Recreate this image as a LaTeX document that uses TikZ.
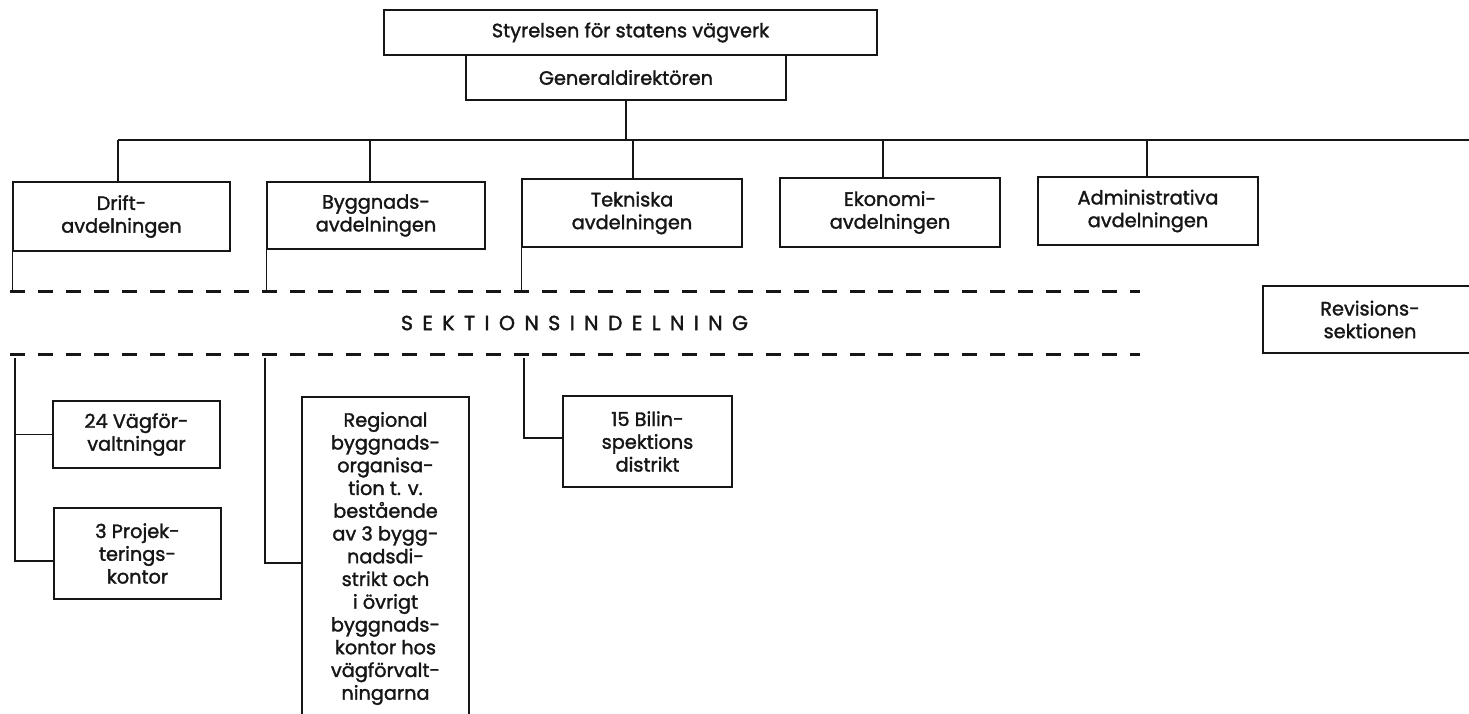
\documentclass[tikz,border=0pt]{standalone}
\usepackage{fontspec}
\setmainfont{Poppins}[FakeBold=1.6]
\definecolor{ink}{HTML}{161616}
\tikzset{
  orgbox/.style={draw=ink, line width=1.4pt, inner sep=0pt, align=center,
    text=ink, font=\fontsize{19.3}{22.75}\selectfont},
  conn/.style={draw=ink, line width=1.4pt},
  sectline/.style={draw=ink, line width=3pt, dash pattern=on 15pt off 13pt},
}
\begin{document}
\begin{tikzpicture}[x=1pt,y=-1pt]
\fill[white] (0,0) rectangle (1469,714);
\clip (0,0) rectangle (1469,714);

% top
\node[orgbox, minimum width=493pt, minimum height=45pt] (sty) at (630.5,32.5) {Styrelsen för statens vägverk};
\node[orgbox, minimum width=320pt, minimum height=45pt] (gen) at (626,77.5) {Generaldirektören};

% departments
\node[orgbox, minimum width=217pt, minimum height=69pt] (drift) at (121.5,216.5) {Drift-\\avdelningen};
\node[orgbox, minimum width=218pt, minimum height=67pt] (bygg) at (376,215.5) {Byggnads-\\avdelningen};
\node[orgbox, minimum width=220pt, minimum height=68pt] (tek) at (632,213) {Tekniska\\avdelningen};
\node[orgbox, minimum width=220pt, minimum height=69pt] (eko) at (890,212.5) {Ekonomi-\\avdelningen};
\node[orgbox, minimum width=220pt, minimum height=68pt] (adm) at (1148,211) {Administrativa\\avdelningen};
\node[orgbox, minimum width=214pt, minimum height=67pt] (rev) at (1370,319.5) {Revisions-\\sektionen};

% lower units
\node[orgbox, minimum width=167pt, minimum height=67pt] (vag) at (136.5,434.5) {24 Vägför-\\valtningar};
\node[orgbox, minimum width=167pt, minimum height=91pt] (proj) at (137.5,553.5) {3 Projek-\\terings-\\kontor};
\node[orgbox, minimum width=167pt, minimum height=323pt] (reg) at (385.5,558.5) {Regional\\byggnads-\\organisa-\\tion t. v.\\bestående\\av 3 bygg-\\nadsdi-\\strikt och\\i övrigt\\byggnads-\\kontor hos\\vägförvalt-\\ningarna};
\node[orgbox, minimum width=169pt, minimum height=91pt] (bil) at (647.5,441.5) {15 Bilin-\\spektions\\distrikt};

% bus
\coordinate (busL) at (118,140);
\coordinate (busR) at (1480,140);
\draw[conn] (gen.south) -- (gen.south |- busL);
\draw[conn] (busL) -- (busR);
\draw[conn] ([xshift=-3.5pt]drift.north) -- ([xshift=-3.5pt]drift.north |- busL);
\draw[conn] ([xshift=-6pt]bygg.north) -- ([xshift=-6pt]bygg.north |- busL);
\draw[conn] ([xshift=1pt]tek.north) -- ([xshift=1pt]tek.north |- busL);
\draw[conn] ([xshift=-7pt]eko.north) -- ([xshift=-7pt]eko.north |- busL);
\draw[conn] ([xshift=-1pt]adm.north) -- ([xshift=-1pt]adm.north |- busL);

% section band
\coordinate (dashUL) at (10,291);
\coordinate (dashUR) at (1140,291);
\coordinate (dashLL) at (10,354);
\coordinate (dashLR) at (1140,354);
\draw[sectline] (dashUL) -- (dashUR);
\draw[sectline] (dashLL) -- (dashLR);
\node[text=ink, font=\fontsize{20.5}{24}\selectfont, inner sep=0pt] (sek) at (574.5,323)
  {\makebox[347pt][s]{S\hfill E\hfill K\hfill T\hfill I\hfill O\hfill N\hfill S\hfill I\hfill N\hfill D\hfill E\hfill L\hfill N\hfill I\hfill N\hfill G}};

% legs from departments to section band
\draw[conn] (drift.south west) -- (drift.south west |- dashUL);
\draw[conn] (bygg.south west) -- (bygg.south west |- dashUL);
\draw[conn] (tek.south west) -- (tek.south west |- dashUL);

% below section band
\coordinate (d1) at (15,358);
\coordinate (b1) at (265,358);
\coordinate (t1) at (524,358);
\draw[conn] (d1) |- ([yshift=-7.5pt]proj.west);
\draw[conn] (d1 |- vag.west) -- (vag.west);
\draw[conn] (b1) |- ([yshift=-4.5pt]reg.west);
\draw[conn] (t1) |- ([yshift=3.5pt]bil.west);
\end{tikzpicture}
\end{document}
